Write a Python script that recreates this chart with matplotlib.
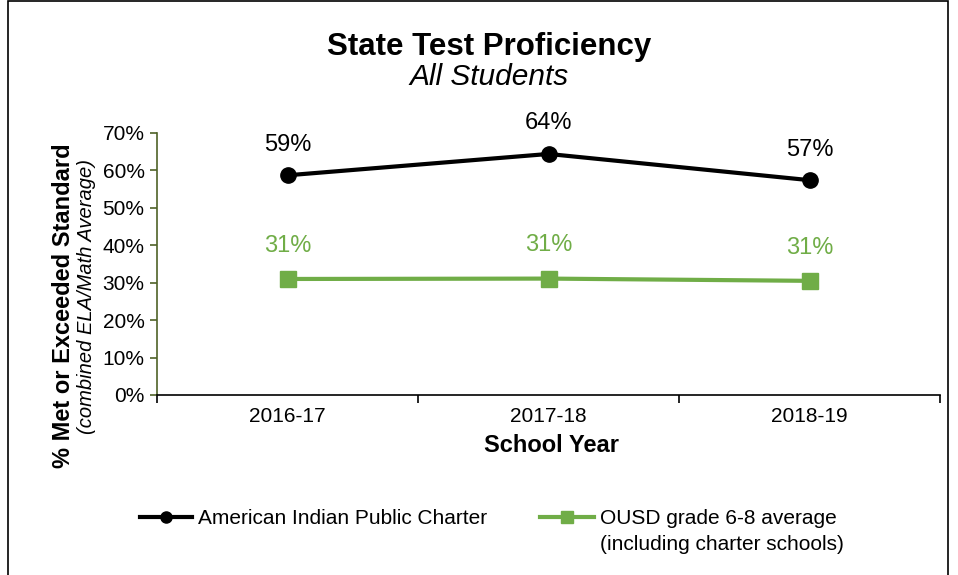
import matplotlib
matplotlib.use("Agg")
import matplotlib.pyplot as plt
from matplotlib.lines import Line2D
from matplotlib.patches import Rectangle

years = ["2016-17", "2017-18", "2018-19"]
aipc = [58.7, 64.4, 57.4]
ousd = [31.0, 31.1, 30.5]
aipc_labels = ["59%", "64%", "57%"]
ousd_labels = ["31%", "31%", "31%"]
yticks = [0, 10, 20, 30, 40, 50, 60, 70]

BLACK = "#000000"
GREEN = "#70AD47"
OLIVE = "#4F6228"

plt.rcParams['font.family'] = ['Liberation Sans', 'DejaVu Sans']

W, H = 958, 575
fig = plt.figure(figsize=(W/100, H/100), dpi=100)
ax = fig.add_axes([157/W, 1-395/H, (940-157)/W, (395-133)/H])

x = list(range(len(years)))
ax.plot(x, aipc, color=BLACK, lw=3, marker='o', ms=11, zorder=3, clip_on=False)
ax.plot(x, ousd, color=GREEN, lw=3, marker='s', ms=11, zorder=3, clip_on=False)

for xi, v, t in zip(x, aipc, aipc_labels):
    ax.annotate(t, (xi, v), xytext=(0, 22), textcoords='offset points',
                ha='center', va='center', fontsize=17, color=BLACK)
for xi, v, t in zip(x, ousd, ousd_labels):
    ax.annotate(t, (xi, v), xytext=(0, 24), textcoords='offset points',
                ha='center', va='center', fontsize=17, color=GREEN)

ax.set_xlim(-0.5, len(years) - 0.5)
ax.set_ylim(0, 70)
ax.set_yticks(yticks)
ax.set_yticklabels([f"{v}%" for v in yticks], fontsize=15)
ax.set_xticks([i - 0.5 for i in range(len(years) + 1)])
ax.set_xticklabels([])
ax.set_xticks(x, minor=True)
ax.set_xticklabels(years, minor=True, fontsize=15)
ax.tick_params(axis='x', which='major', direction='out', length=6, width=1.2, color=BLACK)
ax.tick_params(axis='x', which='minor', length=0, pad=9)
ax.tick_params(axis='y', direction='out', length=5, width=1.2, color=OLIVE, pad=4)

for s in ['top', 'right']:
    ax.spines[s].set_visible(False)
ax.spines['left'].set_color(OLIVE)
ax.spines['left'].set_linewidth(1.2)
ax.spines['bottom'].set_color(BLACK)
ax.spines['bottom'].set_linewidth(1.2)

fig.text(551/W, 1-452/H, "School Year", ha='center', va='baseline',
         fontsize=17, fontweight='bold')

fig.text(489/W, 1-55/H, "State Test Proficiency", ha='center', va='baseline',
         fontsize=22.5, fontweight='bold')
fig.text(489/W, 1-85/H, "All Students", ha='center', va='baseline',
         fontsize=21.5, style='italic')

fig.text(64/W, 1-306/H, "% Met or Exceeded Standard", rotation=90, ha='center',
         va='center', fontsize=17, fontweight='bold')
fig.text(87/W, 1-296/H, "(combined ELA/Math Average)", rotation=90, ha='center',
         va='center', fontsize=14.5, style='italic')

h1 = Line2D([], [], color=BLACK, lw=3, marker='o', ms=8)
h2 = Line2D([], [], color=GREEN, lw=3, marker='s', ms=8)
fig.legend([h1], ["American Indian Public Charter"], loc='center left',
           bbox_to_anchor=(140/W, 1-519/H), frameon=False, fontsize=15,
           handlelength=2.5, handletextpad=0.3, borderpad=0, borderaxespad=0)
fig.legend([h2], ["OUSD grade 6-8 average"], loc='center left',
           bbox_to_anchor=(540/W, 1-519/H), frameon=False, fontsize=15,
           handlelength=2.6, handletextpad=0.3, borderpad=0, borderaxespad=0)
fig.text(600/W, 1-545/H, "(including charter schools)", ha='left', va='center', fontsize=15)

fig.patches.append(Rectangle((8/W, -0.05), (948-8)/W, 1.05 - 1/H, transform=fig.transFigure,
                             fill=False, edgecolor='black', lw=1.2))

fig.savefig("out.png", dpi=100)
